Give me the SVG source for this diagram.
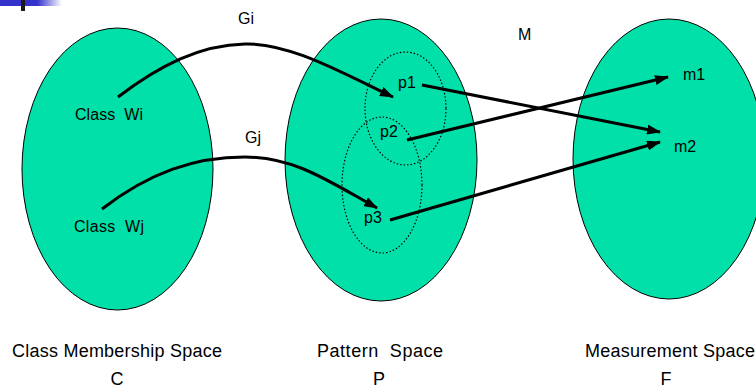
<svg xmlns="http://www.w3.org/2000/svg" width="756" height="389" viewBox="0 0 756 389">
<style>
.space{fill:#00E0A8;stroke:#000;stroke-width:1}
.subset{fill:none;stroke:#000;stroke-width:1.2;stroke-dasharray:1.5 2}
.lbl{font-family:"Liberation Sans",Arial,sans-serif;font-size:16px;fill:#000}
.big{font-family:"Liberation Sans",Arial,sans-serif;font-size:18px;fill:#000}
.conn{fill:none;stroke:#000;stroke-width:3}
</style>
<defs>
<linearGradient id="barGrad" x1="0" y1="0" x2="1" y2="0">
<stop offset="0" stop-color="#3333CC"/>
<stop offset="0.6" stop-color="#3333CC"/>
<stop offset="1" stop-color="#3333CC" stop-opacity="0"/>
</linearGradient>
<marker id="arrow" viewBox="0 0 14 10" refX="13" refY="5" markerWidth="14" markerHeight="10" markerUnits="userSpaceOnUse" orient="auto">
<path d="M0,0 L14,5 L0,10 z" fill="#000"/>
</marker>
</defs>
<g id="corner">
<rect x="0" y="0" width="62" height="6" fill="url(#barGrad)"/>
<rect x="21" y="0" width="4" height="11" fill="#1a1a1a"/>
</g>
<g id="space-C">
<ellipse class="space" cx="117.5" cy="169" rx="95.5" ry="141"/>
<text class="lbl" x="75" y="120" textLength="68" lengthAdjust="spacing" xml:space="preserve">Class  Wi</text>
<text class="lbl" x="74" y="232" textLength="70" lengthAdjust="spacing" xml:space="preserve">Class  Wj</text>
<text class="big" x="12" y="357" textLength="210" lengthAdjust="spacing">Class Membership Space</text>
<text class="big" x="117" y="385" text-anchor="middle">C</text>
</g>
<g id="space-P">
<ellipse class="space" cx="381" cy="160" rx="96" ry="141"/>
<ellipse class="subset" cx="405.5" cy="108.5" rx="40.5" ry="56.5"/>
<ellipse class="subset" cx="382" cy="185" rx="40" ry="68"/>
<text class="lbl" x="398" y="88">p1</text>
<text class="lbl" x="380" y="137">p2</text>
<text class="lbl" x="364" y="223">p3</text>
<text class="big" x="317" y="357" textLength="126" lengthAdjust="spacing" xml:space="preserve">Pattern  Space</text>
<text class="big" x="379" y="385" text-anchor="middle">P</text>
</g>
<g id="space-F">
<ellipse class="space" cx="669" cy="159" rx="96" ry="140"/>
<text class="lbl" x="683" y="80">m1</text>
<text class="lbl" x="674" y="152">m2</text>
<text class="big" x="585" y="357" textLength="170" lengthAdjust="spacing">Measurement Space</text>
<text class="big" x="666" y="385" text-anchor="middle">F</text>
</g>
<g id="connectors">
<path class="conn" marker-end="url(#arrow)" d="M118,97 C160,65 200,45 245,44 S340,72 393,97"/>
<path class="conn" marker-end="url(#arrow)" d="M102,209 C150,172 195,157 245,157 S330,182 377,208"/>
<line class="conn" marker-end="url(#arrow)" x1="422" y1="85" x2="660" y2="132"/>
<line class="conn" marker-end="url(#arrow)" x1="407" y1="140" x2="668" y2="77"/>
<line class="conn" marker-end="url(#arrow)" x1="390" y1="220" x2="660" y2="142"/>
<text class="lbl" x="238" y="24">Gi</text>
<text class="lbl" x="245" y="143">Gj</text>
<text class="lbl" x="518" y="40">M</text>
</g>
</svg>
